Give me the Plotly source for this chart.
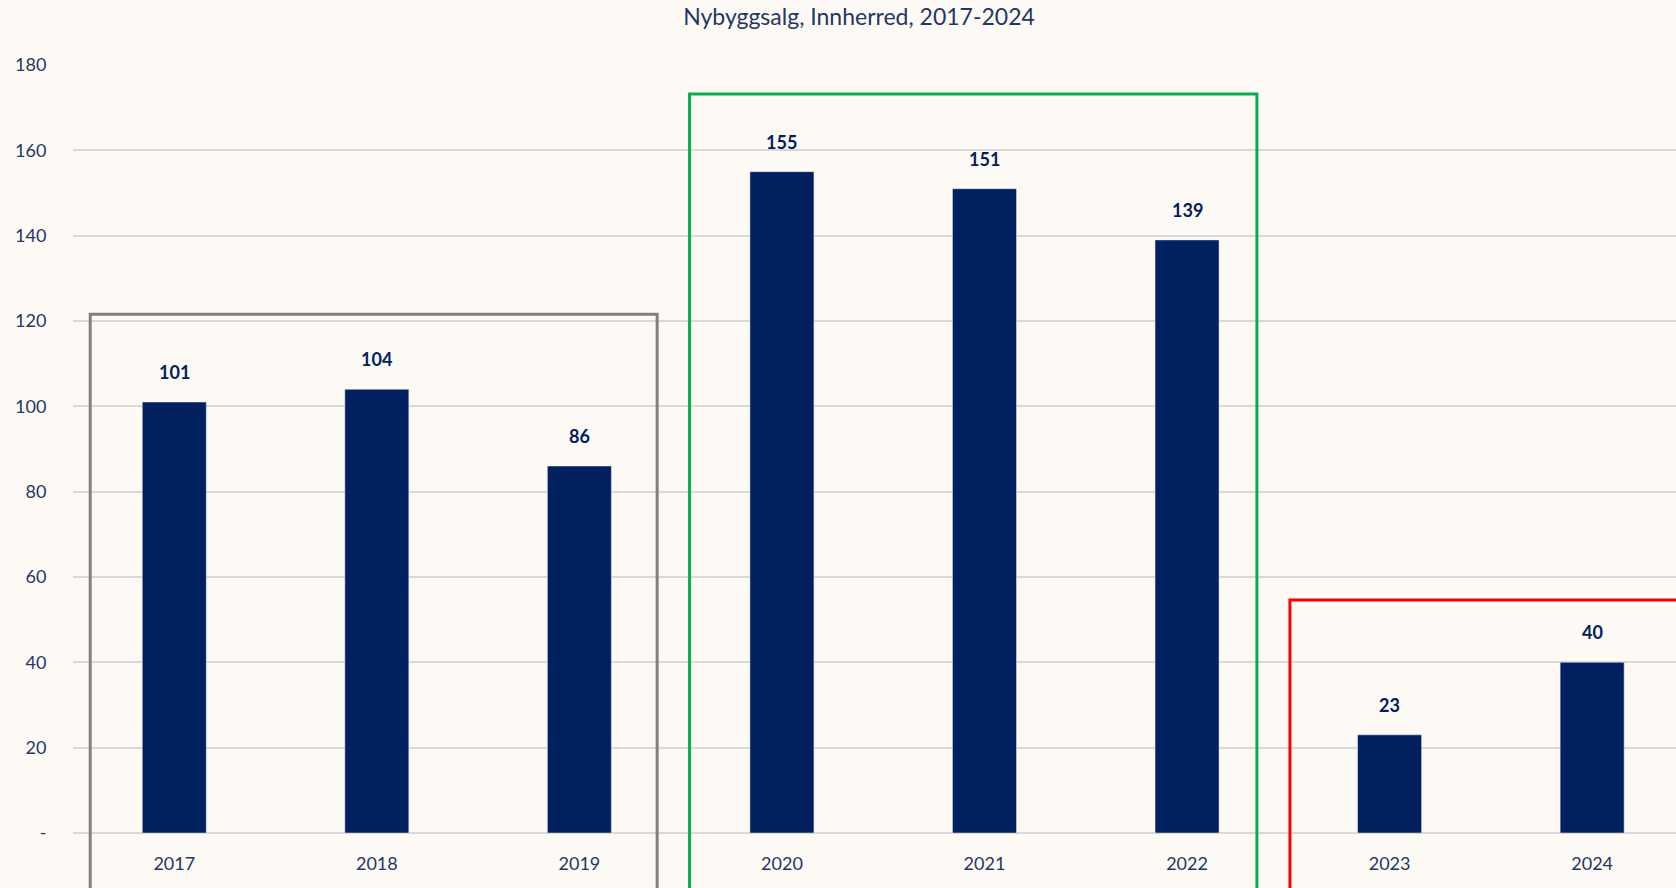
import plotly.graph_objects as go

years = ["2017", "2018", "2019", "2020", "2021", "2022", "2023", "2024"]
sales = [101, 104, 86, 155, 151, 139, 23, 40]
ytick_vals = [0, 20, 40, 60, 80, 100, 120, 140, 160, 180]
ytick_text = ["-", "20", "40", "60", "80", "100", "120", "140", "160", "180"]

BG = "#FDF9F5"
NAVY = "#002060"
TXT = "#1F3864"
FONT = "Lato"

XMIN, XMAX = -0.5, 7.414
YMIN, YMAX = 0, 180

def px(v):
    return (v - XMIN) / (XMAX - XMIN)

def py(v):
    return (v - YMIN) / (YMAX - YMIN)

fig = go.Figure()
fig.add_trace(go.Bar(x=years, y=sales, marker_color=NAVY, width=0.316, hoverinfo="x+y"))

for i, v in enumerate(sales):
    fig.add_annotation(x=i, y=v, xref="x", yref="y", text=f"<b>{v}</b>", showarrow=False,
                       yshift=30, font=dict(family=FONT, size=18, color=NAVY))

boxes = [
    (-0.415, 2.384, 121.6, "#808080"),
    (2.544, 5.345, 173.2, "#00B050"),
    (5.508, 8.2, 54.6, "#FF0000"),
]
for x0, x1, top, col in boxes:
    fig.add_shape(type="path", xref="paper", yref="paper",
                  path=f"M {px(x0)} -0.3 L {px(x0)} {py(top)} L {px(x1)} {py(top)} L {px(x1)} -0.3",
                  line=dict(color=col, width=3), layer="above")

fig.update_layout(
    width=1676, height=888,
    margin=dict(l=73, r=0, t=65, b=55),
    paper_bgcolor=BG, plot_bgcolor=BG,
    showlegend=False,
    title=dict(text="Nybyggsalg, Innherred, 2017-2024", x=859/1676, xref="container",
               y=1 - 17/888, yref="container", xanchor="center", yanchor="middle",
               font=dict(family=FONT, size=23, color=TXT)),
    xaxis=dict(type="category", range=[XMIN, XMAX], showgrid=False, zeroline=False, showline=False,
               ticks="outside", ticklen=14, tickcolor=BG,
               tickfont=dict(family=FONT, size=18, color=TXT), fixedrange=True),
    yaxis=dict(range=[YMIN, YMAX], tickvals=ytick_vals, ticktext=ytick_text,
               showgrid=True, gridcolor="#D9D9D9", gridwidth=2,
               zeroline=True, zerolinecolor="#D9D9D9", zerolinewidth=2, showline=False,
               ticks="outside", ticklen=22, tickcolor=BG,
               tickfont=dict(family=FONT, size=18, color=TXT), fixedrange=True),
    bargap=0.68,
)

fig.write_html("out.html")
